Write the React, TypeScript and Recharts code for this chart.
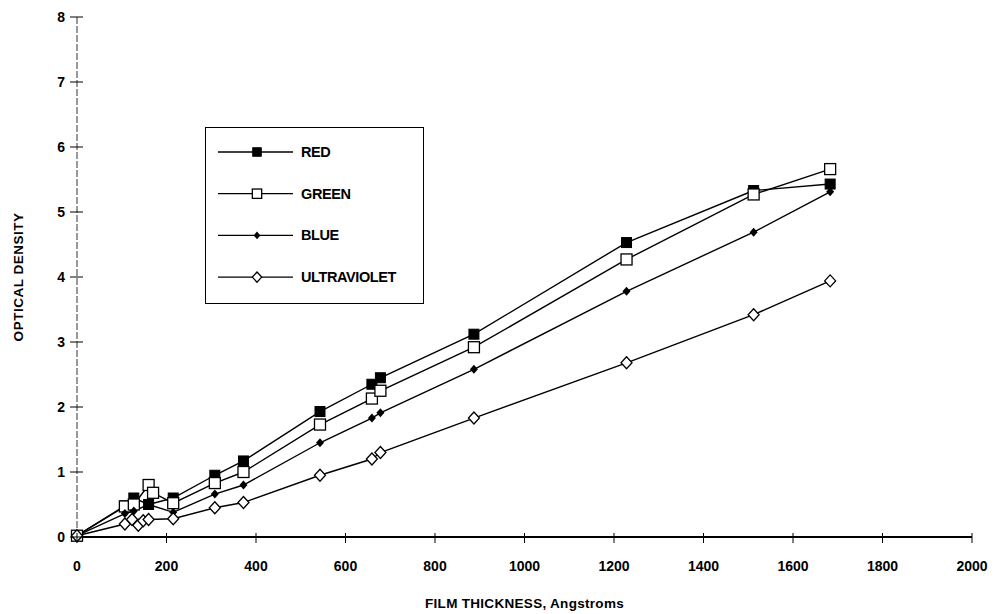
import { LineChart, Line, XAxis, YAxis, Label } from "recharts";

// film thickness (Angstroms) and optical density per channel
const redX = [0, 107, 127, 160, 215, 308, 372, 543, 659, 678, 887, 1228, 1512, 1683];
const redY = [0.02, 0.48, 0.6, 0.5, 0.6, 0.95, 1.17, 1.93, 2.35, 2.45, 3.12, 4.53, 5.33, 5.43];

const greenX = [0, 107, 127, 160, 170, 215, 308, 372, 543, 659, 678, 887, 1228, 1512, 1683];
const greenY = [0.02, 0.47, 0.5, 0.8, 0.68, 0.52, 0.83, 1.0, 1.73, 2.13, 2.25, 2.92, 4.27, 5.27, 5.66];

const blueX = [0, 107, 127, 160, 215, 308, 372, 543, 659, 678, 887, 1228, 1512, 1683];
const blueY = [0.02, 0.36, 0.4, 0.5, 0.38, 0.66, 0.8, 1.45, 1.83, 1.91, 2.58, 3.78, 4.69, 5.31];

const uvX = [0, 107, 123, 137, 148, 160, 215, 308, 372, 543, 659, 678, 887, 1228, 1512, 1683];
const uvY = [0.02, 0.2, 0.27, 0.18, 0.25, 0.27, 0.28, 0.45, 0.53, 0.95, 1.2, 1.3, 1.83, 2.68, 3.42, 3.94];

const xTicks = [0, 200, 400, 600, 800, 1000, 1200, 1400, 1600, 1800, 2000];
const yTicks = [0, 1, 2, 3, 4, 5, 6, 7, 8];

const toPoints = (xs: number[], ys: number[]) => xs.map((x, i) => ({ x, y: ys[i] }));

const redData = toPoints(redX, redY);
const greenData = toPoints(greenX, greenY);
const blueData = toPoints(blueX, blueY);
const uvData = toPoints(uvX, uvY);

const FONT = "'Liberation Sans', Arial, sans-serif";

type Kind = "filledSquare" | "openSquare" | "filledDiamond" | "openDiamond";

const SERIES: { name: string; data: { x: number; y: number }[]; kind: Kind }[] = [
  { name: "RED", data: redData, kind: "filledSquare" },
  { name: "GREEN", data: greenData, kind: "openSquare" },
  { name: "BLUE", data: blueData, kind: "filledDiamond" },
  { name: "ULTRAVIOLET", data: uvData, kind: "openDiamond" },
];

function marker(kind: Kind, cx: number, cy: number, key?: string | number, s = 1) {
  if (kind === "filledSquare")
    return <rect key={key} x={cx - 5 * s} y={cy - 5 * s} width={10 * s} height={10 * s} fill="#000" stroke="#000" strokeWidth={1} />;
  if (kind === "openSquare")
    return <rect key={key} x={cx - 5.5 * s} y={cy - 5.5 * s} width={11 * s} height={11 * s} fill="#fff" stroke="#000" strokeWidth={1.3} />;
  if (kind === "filledDiamond")
    return <path key={key} d={`M${cx},${cy - 4.5 * s}L${cx + 4 * s},${cy}L${cx},${cy + 4.5 * s}L${cx - 4 * s},${cy}Z`} fill="#000" />;
  return (
    <path
      key={key}
      d={`M${cx},${cy - 6 * s}L${cx + 5.5 * s},${cy}L${cx},${cy + 6 * s}L${cx - 5.5 * s},${cy}Z`}
      fill="#fff"
      stroke="#000"
      strokeWidth={1.3}
    />
  );
}

const XTick = (props: any) => {
  const { x, y, payload } = props;
  return (
    <g>
      <line x1={x} x2={x} y1={y - 4} y2={y + 6} stroke="#000" strokeWidth={1} />
      <text
        x={x}
        y={y + 34}
        textAnchor="middle"
        fontFamily={FONT}
        fontWeight="bold"
        fontSize={14}
        fill="#000"
      >
        {payload.value}
      </text>
    </g>
  );
};

const YTick = (props: any) => {
  const { x, y, payload } = props;
  return (
    <g>
      <line x1={x - 7} x2={x + 6} y1={y} y2={y} stroke="#000" strokeWidth={1} />
      <text
        x={x - 12}
        y={y + 5}
        textAnchor="end"
        fontFamily={FONT}
        fontWeight="bold"
        fontSize={14}
        fill="#000"
      >
        {payload.value}
      </text>
    </g>
  );
};

// legend drawn as an overlay so it does not shrink the plot area
const LegendBox = () => (
  <svg
    width={220}
    height={178}
    style={{ position: "absolute", left: 197, top: 119, display: "block" }}
  >
    <rect x={0.5} y={0.5} width={218} height={176} fill="#fff" stroke="#000" strokeWidth={1} />
    {SERIES.map((s, i) => {
      const cy = 25 + i * 41.7;
      return (
        <g key={s.name}>
          <line x1={13} x2={88} y1={cy} y2={cy} stroke="#000" strokeWidth={1.3} />
          {marker(s.kind, 52, cy, undefined, 0.85)}
          <text
            x={96}
            y={cy + 5}
            fontFamily={FONT}
            fontWeight="bold"
            fontSize={14.5}
            letterSpacing={-0.4}
            fill="#000"
          >
            {s.name}
          </text>
        </g>
      );
    })}
  </svg>
);

export default function App() {
  return (
    <div style={{ position: "relative", width: 990, height: 606, background: "#fff" }}>
      <LineChart width={990} height={606} margin={{ top: 9, right: 26, left: 0, bottom: 37 }}>
        <XAxis
          type="number"
          dataKey="x"
          domain={[0, 2000]}
          ticks={xTicks}
          allowDuplicatedCategory={false}
          axisLine={{ stroke: "#000", strokeWidth: 2 }}
          tickLine={false}
          tickSize={0}
          tickMargin={0}
          tick={<XTick />}
          height={40}
          interval={0}
        >
          <Label
            value="FILM THICKNESS, Angstroms"
            position="insideBottom"
            offset={-31}
            style={{ fontFamily: FONT, fontWeight: "bold", fontSize: 13.5, fill: "#000", letterSpacing: 0.3 }}
          />
        </XAxis>
        <YAxis
          type="number"
          dataKey="y"
          domain={[0, 8]}
          ticks={yTicks}
          axisLine={{ stroke: "#333", strokeWidth: 1, strokeDasharray: "7 2" }}
          tickLine={false}
          tickSize={0}
          tickMargin={0}
          tick={<YTick />}
          width={69}
          interval={0}
        >
          <Label
            value="OPTICAL DENSITY"
            angle={-90}
            position="insideLeft"
            offset={10}
            style={{ fontFamily: FONT, fontWeight: "bold", fontSize: 13.5, fill: "#000", textAnchor: "middle", letterSpacing: 0.5 }}
          />
        </YAxis>
        {SERIES.map((s) => (
          <Line
            key={s.name}
            name={s.name}
            data={s.data}
            dataKey="y"
            type="linear"
            stroke="#000"
            strokeWidth={1.4}
            isAnimationActive={false}
            dot={(p: any) => marker(s.kind, p.cx, p.cy, `${s.name}-${p.index}`)}
            activeDot={false}
            legendType="none"
          />
        ))}
      </LineChart>
      <LegendBox />
    </div>
  );
}
